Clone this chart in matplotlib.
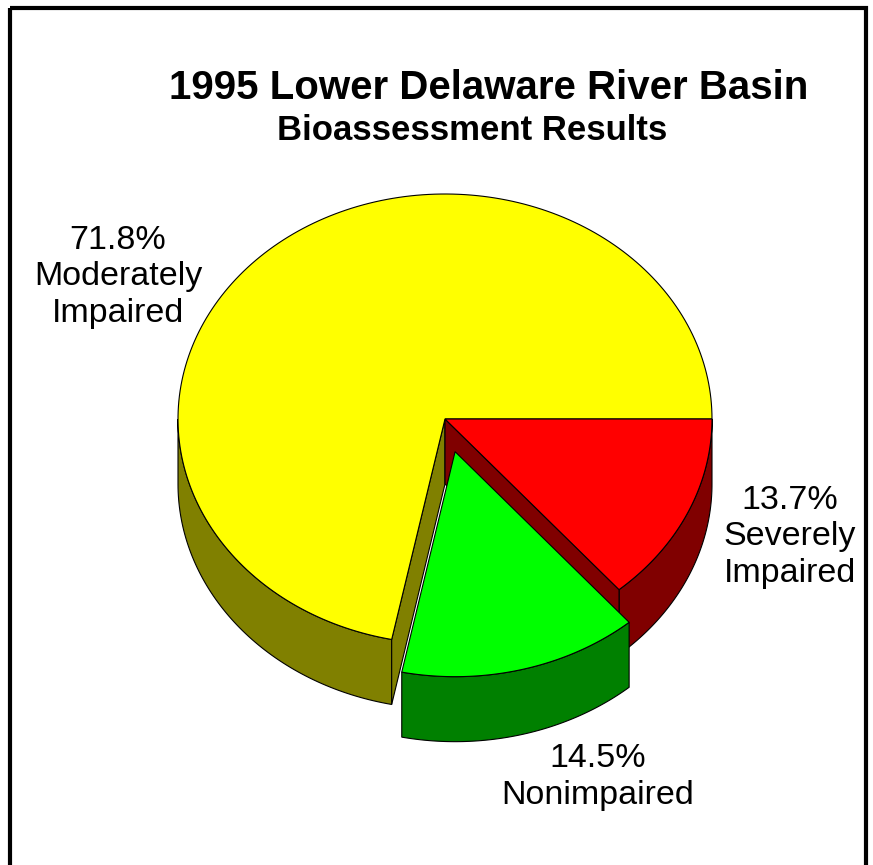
import numpy as np
import matplotlib.pyplot as plt
from matplotlib.patches import Polygon, Rectangle

# slices listed clockwise starting from 3 o'clock
labels = ['13.7%\nSeverely\nImpaired', '14.5%\nNonimpaired', '71.8%\nModerately\nImpaired']
shares = [13.7, 14.5, 71.8]
explode = [0.0, 0.15, 0.0]
top_colors = ['#ff0000', '#00ff00', '#ffff00']
side_colors = ['#800000', '#008000', '#808000']

label_xy = [(790, 537), (598, 777), (118, 277)]

# projection of the pie disc (pixel-like data units, y grows downward)
CX, CY = 445, 419
RX, RY = 267, 225
DEPTH = 65


def rim(a_deg, dx=0.0, dy=0.0, drop=0.0):
    a = np.radians(a_deg)
    return np.column_stack([CX + dx + RX * np.cos(a), CY + dy - RY * np.sin(a) + drop])


fig = plt.figure(figsize=(8.73, 8.65), dpi=100)
ax = fig.add_axes([0, 0, 1, 1])
ax.set_xlim(0, 873)
ax.set_ylim(865, 0)
ax.axis('off')

edge = dict(edgecolor='black', linewidth=0.8)

bounds = np.concatenate([[0], -np.cumsum(shares) * 3.6])
slices = []
for i, share in enumerate(shares):
    a0, a1 = bounds[i], bounds[i + 1]   # a0 > a1, clockwise
    mid = np.radians((a0 + a1) / 2)
    dx = explode[i] * RX * np.cos(mid)
    dy = -explode[i] * RY * np.sin(mid)
    slices.append((a0, a1, dx, dy))


def draw_slice_sides(i, z):
    a0, a1, dx, dy = slices[i]
    # outer wall: only the front half (angles between -180 and 0)
    lo, hi = max(a1, -180), min(a0, 0)
    if hi > lo:
        ang = np.linspace(hi, lo, 80)
        top = rim(ang, dx, dy)
        bot = rim(ang[::-1], dx, dy, DEPTH)
        ax.add_patch(Polygon(np.vstack([top, bot]), closed=True,
                             facecolor=side_colors[i], zorder=z, **edge))


def draw_radial_face(i, a, z):
    a0, a1, dx, dy = slices[i]
    c = np.array([CX + dx, CY + dy])
    p = rim([a], dx, dy)[0]
    pts = [c, p, p + [0, DEPTH], c + [0, DEPTH]]
    ax.add_patch(Polygon(pts, closed=True, facecolor=side_colors[i], zorder=z, **edge))


def draw_slice_top(i, z):
    a0, a1, dx, dy = slices[i]
    ang = np.linspace(a0, a1, 200)
    pts = np.vstack([[CX + dx, CY + dy], rim(ang, dx, dy)])
    ax.add_patch(Polygon(pts, closed=True, facecolor=top_colors[i], zorder=z, **edge))


# back slices first (red and yellow), then the exploded green one in front
draw_slice_sides(2, 1)
draw_slice_sides(0, 1)
draw_radial_face(2, slices[2][0], 2)
draw_radial_face(0, slices[0][1], 2)
draw_slice_top(2, 3)
draw_slice_top(0, 3)
draw_slice_sides(1, 4)
draw_slice_top(1, 5)

font = 'Liberation Sans'
for txt, (x, y) in zip(labels, label_xy):
    ax.text(x, y, txt, ha='center', va='center', fontsize=24.5, family=font,
            linespacing=1.22, zorder=6)

ax.text(489, 88, '1995 Lower Delaware River Basin', ha='center', va='center',
        fontsize=29, fontweight='bold', family=font)
ax.text(472, 131, 'Bioassessment Results', ha='center', va='center',
        fontsize=25, fontweight='bold', family=font)

# frame around the chart (open at the bottom edge of the picture)
ax.add_patch(Rectangle((10, 8), 856, 900, fill=False, edgecolor='black',
                       linewidth=3, zorder=7, clip_on=False))

fig.savefig('out.png', dpi=100)
